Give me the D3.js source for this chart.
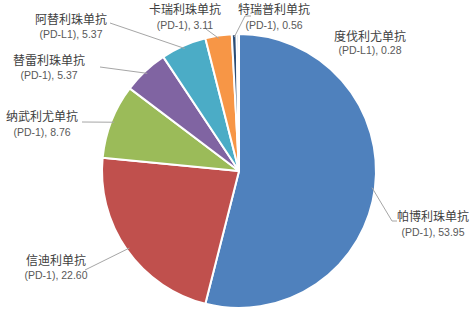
<!DOCTYPE html>
<html><head><meta charset="utf-8">
<script src="https://cdn.jsdelivr.net/npm/d3@7/dist/d3.min.js"></script>
<style>body{margin:0;background:#fff}svg{display:block}</style>
</head><body>
<script>
const names = ["帕博利珠单抗","信迪利单抗","纳武利尤单抗","替雷利珠单抗","阿替利珠单抗","卡瑞利珠单抗","特瑞普利单抗","度伐利尤单抗"];
const types = ["PD-1","PD-1","PD-1","PD-1","PD-L1","PD-1","PD-1","PD-L1"];
const values = [53.95,22.60,8.76,5.37,5.37,3.11,0.56,0.28];
const colors = ["#4f81bd","#c0504d","#9bbb59","#8064a2","#4bacc6","#f79646","#2c4d75","#b9cde5"];
// label layout: [x, baseline of first line, second-line dy, leader stub start x, stub end x, stub y]
const labelPos = [
  [433,221,15,397,392,221],
  [56,265,14,85,85,270],
  [42,121,15,82,82,122],
  [49,65,14,100,100,67],
  [71,24,14,110,110,23],
  [185,14,15,206,206,29],
  [274,14,15,251,245,16],
  [370,41,13,null,null,null]
];

const W=475,H=316, cx=239, cy=171, R=137;
const svg=d3.select("body").append("svg").attr("width",W).attr("height",H);
const g=svg.append("g").attr("transform",`translate(${cx},${cy})`);
const pie=d3.pie().sort(null).value(d=>d)(values);
const arc=d3.arc().innerRadius(0).outerRadius(R);
g.selectAll("path").data(pie).join("path")
  .attr("d",arc).attr("fill",(d,i)=>colors[i])
  .attr("stroke","#fff").attr("stroke-width",2).attr("stroke-linejoin","round");

const edge=d3.arc().innerRadius(R-3).outerRadius(R-3);
pie.forEach((d,i)=>{
  const p=labelPos[i];
  if(p[3]!==null){
    const c=edge.centroid(d);
    svg.append("polyline")
      .attr("points",`${p[3]},${p[5]} ${p[4]},${p[5]} ${cx+c[0]},${cy+c[1]}`)
      .attr("fill","none").attr("stroke","#a6a6a6").attr("stroke-width",1);
  }
  const t=svg.append("text").attr("x",p[0]).attr("y",p[1]).attr("text-anchor","middle")
    .attr("font-family","'Noto Sans CJK SC', sans-serif");
  t.append("tspan").attr("x",p[0]).attr("font-size",12).attr("fill","#404040").text(names[i]);
  t.append("tspan").attr("x",p[0]).attr("dy",p[2]).attr("font-size",10.5).attr("fill","#595959")
    .attr("font-family","'Liberation Sans', sans-serif")
    .text(`(${types[i]}), ${values[i].toFixed(2)}`);
});
</script>
</body></html>
